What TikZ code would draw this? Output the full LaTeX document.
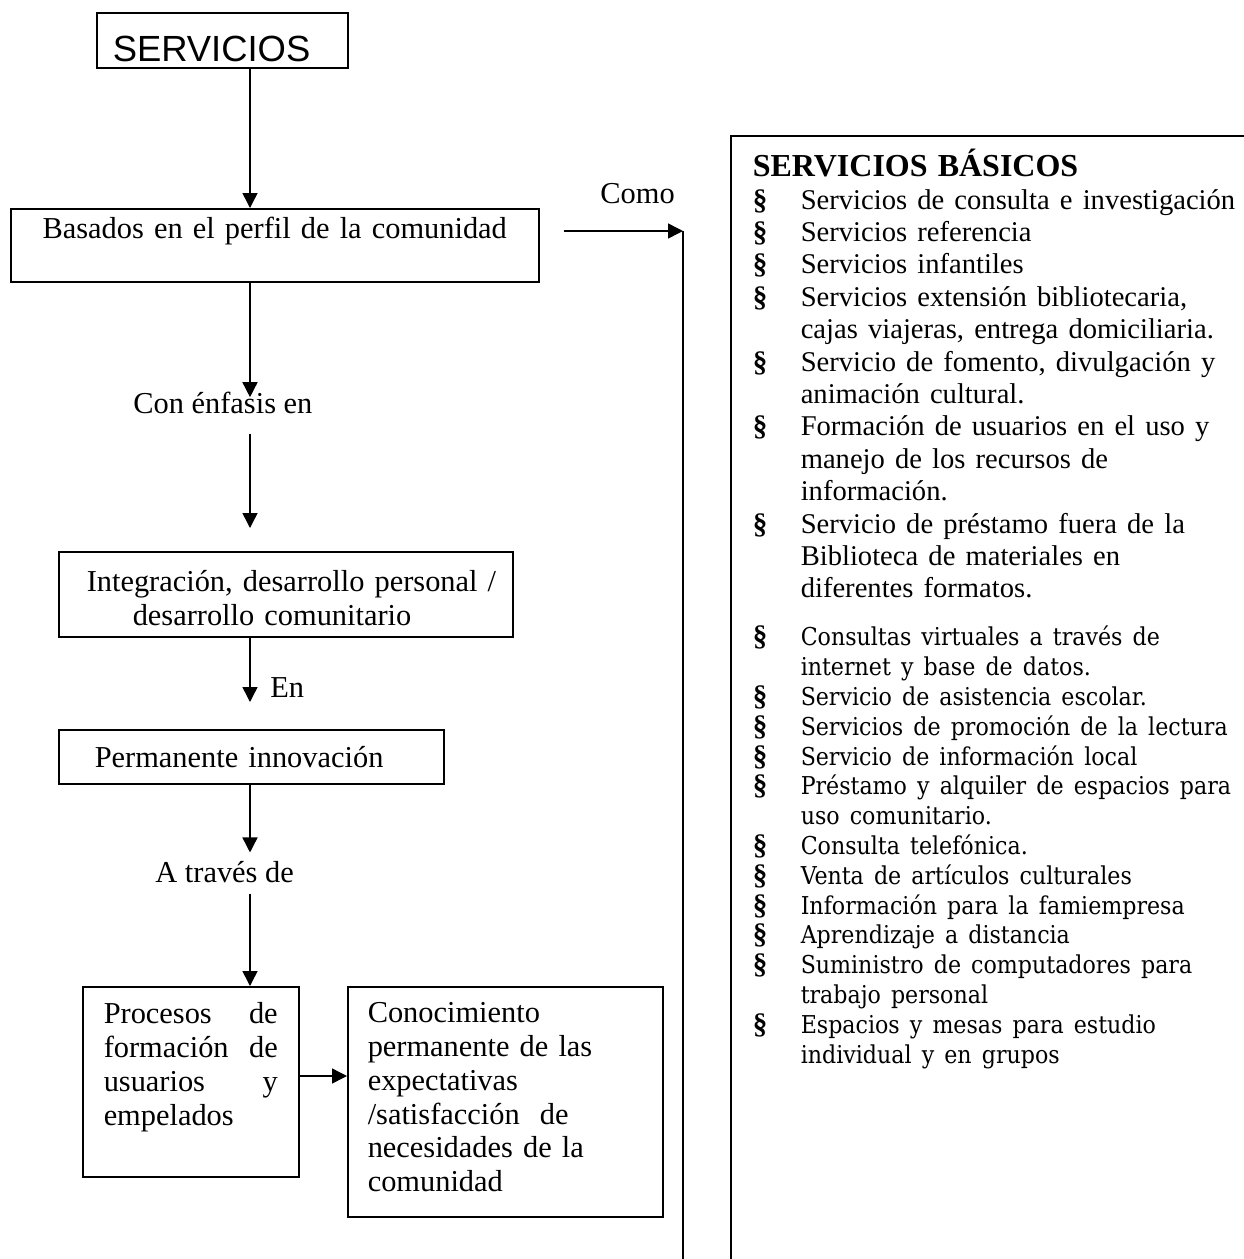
\documentclass[tikz,border=0pt]{standalone}
\usepackage{fontspec}
\setmainfont{Liberation Serif}
\newfontfamily\arialfont{Liberation Sans}
\newfontfamily\timesfont{Liberation Serif}
\newfontfamily\schoolfont{DejaVu Serif Condensed}
\usetikzlibrary{arrows.meta,positioning,calc}
\newcommand{\secitem}[1]{\par\hangindent=24pt\hangafter=1\noindent\makebox[24pt][l]{\timesfont\bfseries\fontsize{14.55pt}{14pt}\selectfont §}#1}

\begin{document}
\begin{tikzpicture}[x=0.5pt,y=-0.5pt,box/.style={draw,line width=0.75pt,anchor=north west,inner ysep=0pt,align=left,font=\fontsize{15.2pt}{16.9pt}\selectfont},lbl/.style={anchor=base west,inner sep=0pt,font=\fontsize{15.2pt}{16.9pt}\selectfont},arr/.style={-{Triangle[length=7.5pt,width=7.5pt]},line width=0.75pt}]
\path[use as bounding box,fill=white] (0,0) rectangle (1243,1259);
\node[box,font=\arialfont\fontsize{18.2pt}{20pt}\selectfont,inner xsep=8pt,text width=109.5pt,text height=24.5pt,text depth=3pt] (servicios) at (96,12) {SERVICIOS};
\node[box,align=center,inner xsep=4pt,text width=256pt,text height=15pt,text depth=21.5pt] (basados) at (10,208) {Basados en el perfil de la comunidad};
\node[box,inner xsep=14pt,text width=199pt,text height=20pt,text depth=22.5pt] (integracion) at (58,551) {\mbox{Integración, desarrollo personal /}\\\hspace*{23pt}desarrollo comunitario};
\node[box,inner xsep=18pt,text width=156.5pt,text height=19pt,text depth=8pt] (permanente) at (58,729) {Permanente innovación};
\node[box,inner xsep=10.5pt,text width=87pt,text height=18.5pt,text depth=76.5pt] (procesos) at (82,986) {Procesos\hfill de\\formación\hfill de\\usuarios\hfill y\\empelados};
\node[box,inner xsep=10pt,text width=137.5pt,text height=18pt,text depth=97pt] (conocimiento) at (347,986) {Conocimiento\\permanente de las\\expectativas\\/satisfacción\ \ de\\necesidades de la\\comunidad};
\node[box,inner xsep=11pt,text width=270pt,text height=20.5pt,text depth=560pt] (basicos) at (730,135) {{\fontsize{16pt}{16pt}\selectfont\bfseries SERVICIOS BÁSICOS}\par
\fontsize{14.3pt}{16.2pt}\selectfont
\secitem{Servicios de consulta e investigación}
\secitem{Servicios referencia}
\secitem{Servicios infantiles}
\secitem{Servicios extensión bibliotecaria,\newline cajas viajeras, entrega domiciliaria.}
\secitem{Servicio de fomento, divulgación y\newline animación cultural.}
\secitem{Formación de usuarios en el uso y\newline manejo de los recursos de\newline información.}
\secitem{Servicio de préstamo fuera de la\newline Biblioteca de materiales en\newline diferentes formatos.}\par
\vspace{9.1pt}\schoolfont\fontsize{12.3pt}{14.9pt}\selectfont
\secitem{Consultas virtuales a través de\newline internet y base de datos.}
\secitem{Servicio de asistencia escolar.}
\secitem{Servicios de promoción de la lectura}
\secitem{Servicio de información local}
\secitem{Préstamo y alquiler de espacios para\newline uso comunitario.}
\secitem{Consulta telefónica.}
\secitem{Venta de artículos culturales}
\secitem{Información para la famiempresa}
\secitem{Aprendizaje a distancia}
\secitem{Suministro de computadores para\newline trabajo personal}
\secitem{Espacios y mesas para estudio\newline individual y en grupos}\par};
\node[lbl] (enfasis) at (133,413) {Con énfasis en};
\node[lbl] (en) at (270,697) {En};
\node[lbl] (atraves) at (155,882) {A través de};
\node[lbl] (como) at (600,203) {Como};
\coordinate (trunk) at (250,0);
\coordinate (midrow) at (0,1076);
\coordinate (railtop) at (683,231);
\coordinate (railbot) at (683,1300);
\draw[arr](servicios.south -| trunk)--(basados.north -| trunk);\draw[arr,shorten >=-3pt](basados.south -| trunk)--(enfasis.north -| trunk);\draw[arr,shorten <=10pt,shorten >=11.5pt](enfasis.south -| trunk)--(integracion.north -| trunk);
\draw[arr,shorten >=13.5pt](integracion.south -| trunk)--(permanente.north -| trunk);\draw[arr,shorten >=4pt](permanente.south -| trunk)--(atraves.north -| trunk);\draw[arr,shorten <=5.5pt](atraves.south -| trunk)--(procesos.north -| trunk);
\draw[arr](procesos.east |- midrow)--(conocimiento.west |- midrow);\draw[arr,shorten <=12pt](basados.east |- railtop)--(railtop);\draw[line width=0.75pt](railtop)--(railbot);
\end{tikzpicture}
\end{document}
